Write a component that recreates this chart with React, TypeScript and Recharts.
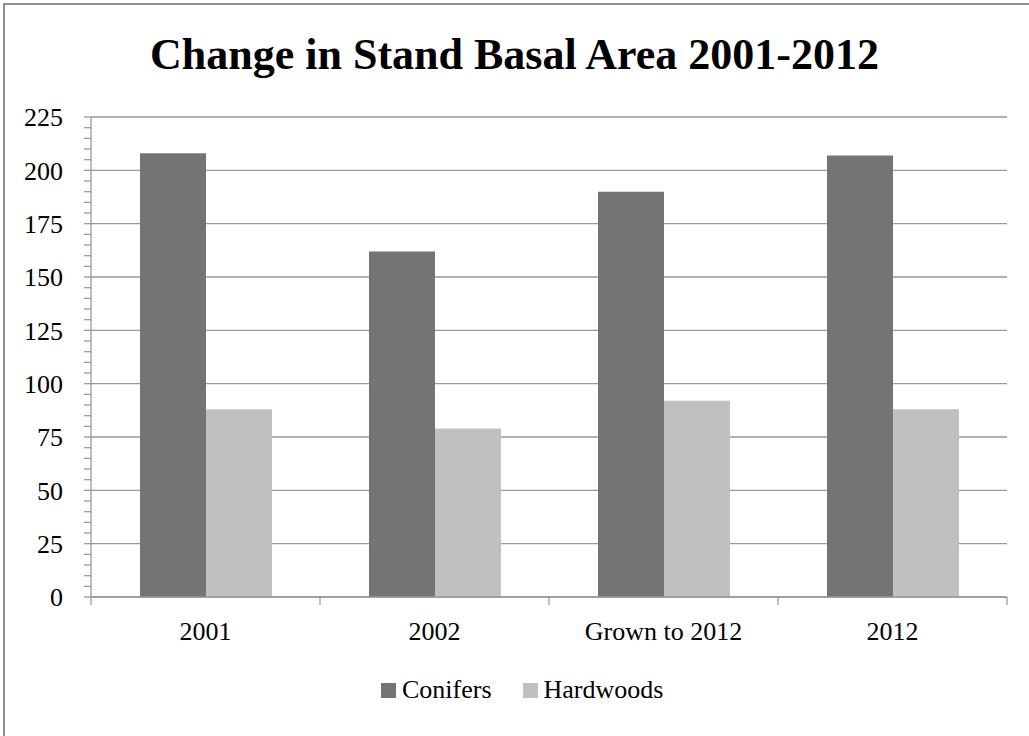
import React from 'react';
import { BarChart, Bar, XAxis, YAxis, CartesianGrid, Legend } from 'recharts';

const categories = ['2001', '2002', 'Grown to 2012', '2012'];
const conifers = [208, 162, 190, 207];
const hardwoods = [88, 79, 92, 88];
const yMajorTicks = [0, 25, 50, 75, 100, 125, 150, 175, 200, 225];

const yAllTicks: number[] = [];
for (let v = 0; v <= 225; v += 5) yAllTicks.push(v);

const data = categories.map((c, i) => ({ name: c, Conifers: conifers[i], Hardwoods: hardwoods[i] }));

const FONT = '"Liberation Serif", serif';
const GRID = '#9a9a9a';
const CHART_W = 1029;
const MARGIN = { top: 117, right: 22, left: 0, bottom: 99 };
const Y_AXIS_W = 91;

const YTick = (props: any) => {
  const { x, y, payload } = props;
  if (payload.value % 25 !== 0) return <g />;
  return (
    <text x={x} y={y} dy="0.355em" textAnchor="end" fontFamily={FONT} fontSize={26} fill="#000">
      {payload.value}
    </text>
  );
};

const XTick = (props: any) => {
  const { x, y, payload, index, visibleTicksCount } = props;
  const count = visibleTicksCount || categories.length;
  const axisW =
    typeof props.width === 'number' && props.width > 0
      ? props.width
      : CHART_W - MARGIN.left - MARGIN.right - Y_AXIS_W;
  const half = axisW / count / 2;
  return (
    <g>
      <line x1={x - half} x2={x - half} y1={y} y2={y + 8} stroke={GRID} strokeWidth={1.3} />
      {index === count - 1 && (
        <line x1={x + half} x2={x + half} y1={y} y2={y + 8} stroke={GRID} strokeWidth={1.3} />
      )}
      <text x={x} y={y + 25} dy="0.71em" textAnchor="middle" fontFamily={FONT} fontSize={26} fill="#000">
        {payload.value}
      </text>
    </g>
  );
};

const LegendContent = (props: any) => {
  const { payload } = props;
  return (
    <div style={{ display: 'flex', alignItems: 'center', gap: 31, fontFamily: FONT, fontSize: 26, color: '#000', lineHeight: '30px' }}>
      {(payload || []).map((e: any) => (
        <div key={e.value} style={{ display: 'flex', alignItems: 'center' }}>
          <span style={{ display: 'inline-block', width: 15, height: 15, background: e.color, marginRight: 6 }} />
          <span>{e.value}</span>
        </div>
      ))}
    </div>
  );
};

export default function App() {
  return (
    <div style={{ position: 'absolute', left: 0, top: 0, width: 1029, height: 736, background: '#fff', overflow: 'hidden' }}>
      <div
        style={{
          position: 'absolute',
          left: 3,
          top: 3,
          width: 1100,
          height: 800,
          borderTop: '2px solid #8f8f8f',
          borderLeft: '2px solid #8f8f8f',
        }}
      />
      <div
        style={{
          position: 'absolute',
          left: 0,
          top: 33,
          width: 1029,
          textAlign: 'center',
          fontFamily: FONT,
          fontWeight: 'bold',
          fontSize: 44,
          lineHeight: '44px',
          color: '#000',
        }}
      >
        Change in Stand Basal Area 2001-2012
      </div>
      <div style={{ position: 'absolute', left: 0, top: 0 }}>
        <BarChart
          width={CHART_W}
          height={736}
          data={data}
          margin={MARGIN}
          barCategoryGap={49}
          barGap={0}
        >
          <CartesianGrid vertical={false} stroke={GRID} strokeWidth={1.3} horizontalValues={yMajorTicks} />
          <XAxis
            dataKey="name"
            height={40}
            tickSize={0}
            tickMargin={0}
            interval={0}
            axisLine={{ stroke: GRID, strokeWidth: 1.3 }}
            tickLine={false}
            tick={<XTick />}
          />
          <YAxis
            width={Y_AXIS_W}
            domain={[0, 225]}
            ticks={yAllTicks}
            interval={0}
            tickSize={7}
            tickMargin={21}
            axisLine={{ stroke: GRID, strokeWidth: 1.3 }}
            tickLine={{ stroke: GRID, strokeWidth: 1.3 }}
            tick={<YTick />}
          />
          <Legend
            layout="horizontal"
            verticalAlign="middle"
            content={<LegendContent />}
            wrapperStyle={{ position: 'absolute', left: 381, top: 675, width: 'auto' }}
          />
          <Bar dataKey="Conifers" fill="#747474" isAnimationActive={false} />
          <Bar dataKey="Hardwoods" fill="#c0c0c0" isAnimationActive={false} />
        </BarChart>
      </div>
    </div>
  );
}
